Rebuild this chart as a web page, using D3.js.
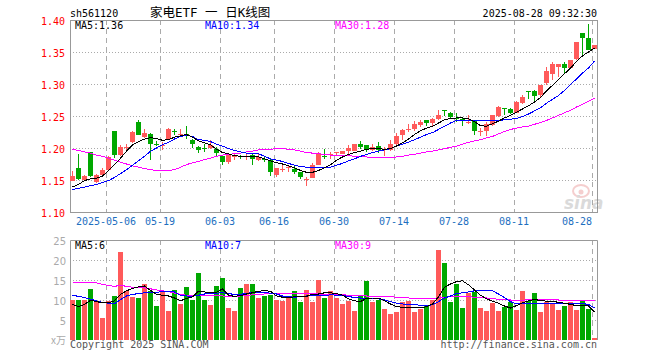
<!DOCTYPE html>
<html>
<head>
<meta charset="utf-8">
<script src="https://cdn.jsdelivr.net/npm/d3@7"></script>
<style>
  body { margin: 0; background: #fff; }
  text { font-family: "DejaVu Sans Mono", monospace; font-size: 10px; }
</style>
</head>
<body>
<div id="chart"></div>
<script>
// trading days on the chart (2025, mm-dd)
var dates = ["04-23","04-24","04-25","04-28","04-29","04-30",
  "05-06","05-07","05-08","05-09","05-12","05-13","05-14","05-15","05-16",
  "05-19","05-20","05-21","05-22","05-23","05-26","05-27","05-28","05-29","05-30",
  "06-03","06-04","06-05","06-06","06-09","06-10","06-11","06-12","06-13",
  "06-16","06-17","06-18","06-19","06-20","06-23","06-24","06-25","06-26","06-27","06-30",
  "07-01","07-02","07-03","07-04","07-07","07-08","07-09","07-10","07-11",
  "07-14","07-15","07-16","07-17","07-18","07-21","07-22","07-23","07-24","07-25",
  "07-28","07-29","07-30","07-31","08-01","08-04","08-05","08-06","08-07","08-08",
  "08-11","08-12","08-13","08-14","08-15","08-18","08-19","08-20","08-21","08-22",
  "08-25","08-26","08-27","08-28"];

var open = [1.149,1.168,1.151,1.193,1.147,1.158,1.166,1.227,1.189,1.200,
  1.210,1.241,1.216,1.222,1.207,1.203,1.215,1.227,1.221,1.222,
  1.213,1.202,1.200,1.200,1.199,1.187,1.178,1.186,1.188,1.187,
  1.189,1.182,1.183,1.181,1.157,1.166,1.169,1.167,1.162,1.151,
  1.154,1.174,1.188,1.189,1.192,1.191,1.195,1.196,1.207,1.204,
  1.196,1.203,1.197,1.197,1.207,1.220,1.228,1.229,1.236,1.244,
  1.239,1.246,1.259,1.255,1.247,1.246,1.240,1.243,1.226,1.227,
  1.235,1.250,1.263,1.261,1.255,1.270,1.289,1.289,1.282,1.303,
  1.316,1.328,1.332,1.326,1.338,1.379,1.372,1.355];
var high = [1.164,1.191,1.158,1.194,1.160,1.169,1.188,1.227,1.204,1.206,
  1.226,1.243,1.229,1.224,1.211,1.209,1.232,1.230,1.229,1.235,
  1.214,1.203,1.207,1.212,1.201,1.188,1.190,1.192,1.189,1.191,
  1.192,1.191,1.187,1.183,1.168,1.174,1.173,1.172,1.163,1.155,
  1.176,1.194,1.198,1.194,1.193,1.196,1.204,1.207,1.211,1.204,
  1.207,1.210,1.201,1.213,1.223,1.229,1.237,1.242,1.243,1.244,
  1.247,1.260,1.260,1.256,1.254,1.247,1.251,1.244,1.232,1.240,
  1.252,1.265,1.263,1.263,1.274,1.283,1.289,1.290,1.299,1.327,
  1.335,1.332,1.334,1.338,1.365,1.380,1.393,1.361];
var low = [1.148,1.150,1.148,1.155,1.146,1.158,1.165,1.184,1.187,1.194,
  1.208,1.220,1.215,1.182,1.203,1.197,1.213,1.221,1.217,1.214,
  1.200,1.192,1.193,1.199,1.187,1.174,1.175,1.182,1.183,1.181,
  1.173,1.180,1.178,1.157,1.155,1.162,1.162,1.159,1.151,1.140,
  1.153,1.173,1.183,1.183,1.187,1.190,1.190,1.196,1.199,1.194,
  1.195,1.192,1.188,1.195,1.205,1.213,1.225,1.227,1.233,1.234,
  1.233,1.244,1.250,1.245,1.241,1.234,1.238,1.220,1.219,1.219,
  1.234,1.248,1.252,1.253,1.254,1.269,1.277,1.274,1.278,1.298,
  1.307,1.311,1.317,1.325,1.337,1.342,1.354,1.355];
var close = [1.157,1.151,1.157,1.155,1.158,1.166,1.186,1.190,1.202,1.201,
  1.225,1.221,1.223,1.207,1.206,1.205,1.230,1.226,1.222,1.220,
  1.207,1.198,1.199,1.204,1.193,1.178,1.189,1.189,1.187,1.188,
  1.182,1.186,1.182,1.163,1.168,1.167,1.170,1.162,1.154,1.152,
  1.174,1.192,1.186,1.190,1.193,1.196,1.200,1.207,1.203,1.196,
  1.201,1.196,1.199,1.207,1.219,1.228,1.229,1.237,1.241,1.240,
  1.246,1.252,1.257,1.248,1.245,1.244,1.241,1.226,1.227,1.238,
  1.251,1.264,1.261,1.254,1.272,1.279,1.287,1.281,1.298,1.321,
  1.332,1.332,1.326,1.338,1.365,1.371,1.354,1.361];

// price moving averages
var ma5 = [1.139,1.143,1.149,1.152,1.153,1.156,1.165,1.174,1.184,1.195,
  1.205,1.210,1.214,1.216,1.215,1.212,1.213,1.217,1.219,1.221,
  1.217,1.211,1.208,1.205,1.198,1.193,1.191,1.188,1.187,1.187,
  1.187,1.186,1.183,1.180,1.177,1.175,1.172,1.169,1.165,1.162,
  1.162,1.165,1.169,1.174,1.181,1.186,1.190,1.193,1.195,1.198,
  1.199,1.199,1.198,1.199,1.203,1.208,1.214,1.221,1.227,1.231,
  1.234,1.239,1.244,1.246,1.247,1.247,1.246,1.241,1.235,1.234,
  1.238,1.242,1.247,1.251,1.256,1.261,1.266,1.272,1.279,1.289,
  1.298,1.307,1.316,1.325,1.335,1.344,1.350,1.356];
var ma10 = [1.135,1.137,1.139,1.141,1.143,1.146,1.149,1.154,1.160,1.166,
  1.173,1.180,1.187,1.195,1.200,1.205,1.209,1.214,1.218,1.220,
  1.218,1.213,1.212,1.210,1.206,1.203,1.199,1.196,1.194,1.192,
  1.192,1.191,1.187,1.183,1.181,1.179,1.176,1.173,1.171,1.170,
  1.169,1.169,1.169,1.170,1.173,1.176,1.180,1.183,1.187,1.190,
  1.193,1.195,1.197,1.199,1.203,1.206,1.209,1.213,1.217,1.221,
  1.224,1.229,1.234,1.239,1.243,1.243,1.243,1.243,1.243,1.243,
  1.243,1.243,1.244,1.245,1.246,1.249,1.253,1.258,1.263,1.270,
  1.276,1.282,1.290,1.299,1.308,1.317,1.325,1.336];
var ma30 = [1.198,1.196,1.194,1.192,1.189,1.187,1.184,1.181,1.178,1.175,
  1.172,1.170,1.168,1.166,1.165,1.165,1.165,1.166,1.170,1.174,
  1.177,1.179,1.182,1.184,1.187,1.189,1.190,1.191,1.192,1.194,
  1.195,1.197,1.198,1.198,1.199,1.199,1.198,1.197,1.195,1.193,
  1.192,1.191,1.190,1.189,1.189,1.188,1.188,1.187,1.186,1.186,
  1.185,1.185,1.185,1.185,1.186,1.187,1.189,1.190,1.192,1.194,
  1.195,1.197,1.199,1.201,1.203,1.206,1.209,1.211,1.213,1.216,
  1.218,1.222,1.226,1.229,1.231,1.233,1.234,1.237,1.240,1.243,
  1.247,1.251,1.255,1.259,1.264,1.268,1.273,1.278];

// volume (x10k) and its moving averages
var volume = [9.9,9.9,9.9,12.8,9.7,5.6,9.7,11.1,21.9,12.2,
  10.8,10.6,14.1,12.3,8.6,12.3,7.3,12.6,9.1,13.3,
  10.1,16.8,10.1,8.8,13.6,15.6,8.1,7.3,13.1,14.1,
  14.1,10.6,11.1,11.3,10.1,9.7,10.6,12.3,9.6,12.6,
  9.6,15.1,10.6,12.3,10.6,9.1,9.8,7.3,11.1,14.8,
  9.6,10.1,7.8,6.6,7.1,9.6,9.8,7.1,7.8,8.6,
  10.1,22.6,19.3,9.6,14.1,8.1,11.8,12.1,8.1,7.3,
  9.3,7.3,8.3,9.6,7.6,12.3,9.8,11.8,7.1,9.6,
  9.1,7.6,8.6,9.6,7.6,9.8,7.8,0.6];
var volMa5 = [8.9,8.4,8.9,9.9,9.6,9.3,9.3,9.8,11.4,12.3,
  12.9,13.3,13.5,12.4,11.4,11.2,11.0,10.5,9.8,10.4,
  10.8,12.2,12.0,11.9,11.9,12.8,11.2,10.9,11.1,11.5,
  11.8,12.2,12.3,12.2,11.0,10.7,10.6,10.8,10.9,10.9,
  11.5,11.5,11.8,11.8,11.6,11.2,10.3,9.8,9.6,10.4,
  10.5,10.5,9.8,9.0,8.3,8.2,8.2,8.1,8.0,8.3,
  9.0,10.8,13.2,14.0,14.6,14.8,13.8,12.5,11.2,10.3,
  9.7,9.2,8.5,8.0,8.6,9.3,9.8,10.1,9.9,9.7,
  9.7,9.4,9.2,8.9,8.6,8.6,8.5,7.0];
var volMa10 = [11.2,10.9,10.6,10.2,9.8,9.4,9.2,9.1,10.1,11.0,
  11.4,11.6,11.8,11.8,11.9,12.1,12.2,12.0,11.2,11.0,
  10.9,11.2,11.5,11.6,11.7,11.8,11.6,11.4,11.4,11.7,
  11.8,11.9,11.9,11.7,11.5,11.0,10.8,10.7,10.8,11.0,
  11.1,11.1,11.1,11.3,11.2,11.1,10.9,10.6,10.5,10.5,
  10.5,10.3,10.0,9.6,9.2,9.0,8.8,8.8,8.7,8.6,
  8.8,9.6,10.5,11.0,11.6,11.8,12.0,12.3,12.4,12.4,
  12.3,11.5,10.6,9.6,9.0,9.1,9.1,9.1,9.1,9.1,
  9.1,9.1,9.1,9.2,9.2,9.1,8.9,8.0];
var volMa30 = [14.5,14.5,14.5,14.4,14.3,13.9,13.6,13.4,13.7,13.4,
  13.2,13.1,13.0,12.8,12.5,12.3,12.1,11.7,11.4,11.2,
  11.2,11.1,11.1,11.1,11.1,11.0,10.9,10.8,11.0,11.1,
  11.3,11.4,11.5,11.6,11.6,11.6,11.7,11.7,11.7,11.6,
  11.6,11.5,11.5,11.5,11.4,11.3,11.2,11.1,11.1,11.0,
  11.0,10.9,10.9,10.8,10.7,10.6,10.5,10.4,10.3,10.3,
  10.3,10.5,10.7,10.8,10.8,10.8,10.8,10.7,10.6,10.5,
  10.3,10.2,10.1,10.0,10.0,9.9,10.1,10.2,10.2,10.1,
  10.1,10.0,10.0,9.9,9.9,9.9,9.8,9.8];

// ticks
var dateTicks = ["05-06","05-19","06-03","06-16","06-30","07-14","07-28","08-11","08-28"];
var priceTicks = [1.10,1.15,1.20,1.25,1.30,1.35,1.40];
var volTicks = [5,10,15,20,25];

var up = "#ff5a5a", down = "#00a800";
var left = 70, right = 598;

var svg = d3.select("#chart")
  .append("svg")
  .attr("width", 660)
  .attr("height", 360)
  .style("display", "block");

var x = d3.scaleBand().domain(dates).range([left, right]);
var bw = x.bandwidth() - 1;
var yPrice = d3.scaleLinear().domain([1.10, 1.40]).range([212, 20]);
var yVol = d3.scaleLinear().domain([0, 25]).range([340, 240]);

function cx(i) { return x(dates[i]) + bw / 2; }

// ----- header texts
svg.append("text").attr("x", 70).attr("y", 17).attr("fill", "#000").text("sh561120");
svg.append("text").attr("x", 150).attr("y", 17).attr("fill", "#000")
  .attr("xml:space", "preserve")
  .style("white-space", "pre")
  .style("font-family", "'DejaVu Sans Mono', 'Noto Sans CJK SC', monospace").style("font-size", "12.5px")
  .text("家电ETF 一 日K线图");
svg.append("text").attr("x", 597).attr("y", 17).attr("text-anchor", "end").attr("fill", "#000")
  .text("2025-08-28 09:32:30");

// ----- grids (dotted horizontal, dashed vertical)
svg.append("g").selectAll("line")
  .data(priceTicks.slice(1, -1))
  .enter().append("line")
  .attr("x1", left).attr("x2", right)
  .attr("y1", function(d) { return Math.round(yPrice(d)) + 0.5; })
  .attr("y2", function(d) { return Math.round(yPrice(d)) + 0.5; })
  .attr("stroke", "#aaa").attr("stroke-dasharray", "1,2");

svg.append("g").selectAll("line")
  .data(volTicks.slice(0, -1))
  .enter().append("line")
  .attr("x1", left).attr("x2", right)
  .attr("y1", function(d) { return Math.round(yVol(d)) + 0.5; })
  .attr("y2", function(d) { return Math.round(yVol(d)) + 0.5; })
  .attr("stroke", "#aaa").attr("stroke-dasharray", "1,2");

dateTicks.forEach(function(d) {
  var gx = x(d) + 0.5;
  svg.append("line").attr("x1", gx).attr("x2", gx).attr("y1", 20).attr("y2", 212)
    .attr("stroke", "#aaa").attr("stroke-dasharray", "5,4");
  svg.append("line").attr("x1", gx).attr("x2", gx).attr("y1", 240).attr("y2", 340)
    .attr("stroke", "#aaa").attr("stroke-dasharray", "5,4");
});

// panel frames
svg.append("rect").attr("x", left + 0.5).attr("y", 20.5)
  .attr("width", right - left - 1).attr("height", 192)
  .attr("fill", "none").attr("stroke", "#999");
svg.append("path")
  .attr("d", "M" + (left + 0.5) + ",340V240.5H" + (right - 0.5) + "V340")
  .attr("fill", "none").attr("stroke", "#999");

// sina watermark
var mark = svg.append("g").attr("opacity", 0.3);
mark.append("ellipse").attr("cx", 581).attr("cy", 191).attr("rx", 8).attr("ry", 6)
  .attr("fill", "none").attr("stroke", "#e06060").attr("stroke-width", 2);
mark.append("circle").attr("cx", 581).attr("cy", 192).attr("r", 2.5).attr("fill", "#e06060");
mark.append("text").attr("x", 564).attr("y", 209)
  .style("font-family", "'DejaVu Sans', sans-serif").style("font-size", "17px")
  .style("font-style", "italic").style("font-weight", "bold")
  .attr("fill", "#888").text("sina");

// ----- axes
var yAxis = d3.axisLeft(yPrice).tickValues(priceTicks)
  .tickFormat(d3.format(".2f")).tickSize(0).tickPadding(5);
var gy = svg.append("g").attr("transform", "translate(" + left + ",0)").call(yAxis);
gy.select(".domain").remove();
gy.selectAll("text").attr("fill", "#f00").attr("dy", "4.5")
  .style("font-family", "'DejaVu Sans Mono', monospace").style("font-size", "10px");

var vAxis = d3.axisLeft(yVol).tickValues(volTicks).tickSize(0).tickPadding(4);
var gv = svg.append("g").attr("transform", "translate(" + left + ",0)").call(vAxis);
gv.select(".domain").remove();
gv.selectAll("text").attr("fill", "#aaa").attr("dy", "4")
  .style("font-family", "'DejaVu Sans', sans-serif").style("font-size", "10px");
svg.append("text").attr("x", 66).attr("y", 344).attr("text-anchor", "end")
  .attr("fill", "#aaa").style("font-family", "'Noto Sans CJK SC', sans-serif")
  .style("font-size", "10px").text("x万");

var xAxis = d3.axisBottom(x).tickValues(dateTicks).tickSize(0).tickPadding(4)
  .tickFormat(function(d, i) { return i === 0 ? "2025-" + d : d; });
var gx = svg.append("g").attr("transform", "translate(0,212)").call(xAxis);
gx.select(".domain").remove();
gx.selectAll("text").attr("fill", "#1e6fc0").attr("x", -3).attr("dy", "0.9em")
  .style("font-family", "'DejaVu Sans Mono', monospace").style("font-size", "10px")
  .attr("text-anchor", function(d, i) { return i === dateTicks.length - 1 ? "end" : "middle"; });

// ----- candles
var idx = d3.range(dates.length);
function col(i) { return close[i] >= open[i] ? up : down; }

var candles = svg.append("g").attr("shape-rendering", "crispEdges");
candles.selectAll(".wick")
  .data(idx)
  .enter().append("line")
  .attr("class", "wick")
  .attr("x1", function(i) { return Math.floor(cx(i)) + 0.5; })
  .attr("x2", function(i) { return Math.floor(cx(i)) + 0.5; })
  .attr("y1", function(i) { return yPrice(high[i]); })
  .attr("y2", function(i) { return yPrice(low[i]); })
  .attr("stroke", col);
candles.selectAll(".body")
  .data(idx)
  .enter().append("rect")
  .attr("class", "body")
  .attr("x", function(i) { return x(dates[i]); })
  .attr("width", bw)
  .attr("y", function(i) { return Math.round(yPrice(Math.max(open[i], close[i]))); })
  .attr("height", function(i) {
    return Math.max(1, Math.round(Math.abs(yPrice(open[i]) - yPrice(close[i]))));
  })
  .attr("fill", col);

// ----- volume bars
svg.append("g").attr("shape-rendering", "crispEdges")
  .selectAll("rect")
  .data(idx)
  .enter().append("rect")
  .attr("x", function(i) { return x(dates[i]); })
  .attr("width", bw)
  .attr("y", function(i) { return Math.round(yVol(volume[i])); })
  .attr("height", function(i) { return 340 - Math.round(yVol(volume[i])); })
  .attr("fill", col);

// ----- moving average lines
function drawLine(values, yScale, color) {
  var line = d3.line()
    .x(function(d, i) { return cx(i); })
    .y(function(d) { return yScale(d); });
  svg.append("path")
    .datum(values)
    .attr("d", line)
    .attr("fill", "none")
    .attr("stroke", color)
    .attr("stroke-width", 1)
    .attr("shape-rendering", "crispEdges");
}
drawLine(ma30, yPrice, "#ff00ff");
drawLine(ma10, yPrice, "#0000ff");
drawLine(ma5, yPrice, "#000");
drawLine(volMa30, yVol, "#ff00ff");
drawLine(volMa10, yVol, "#0000ff");
drawLine(volMa5, yVol, "#000");

// ----- legends
svg.append("text").attr("x", 75).attr("y", 29).attr("fill", "#000").text("MA5:1.36");
svg.append("text").attr("x", 205).attr("y", 29).attr("fill", "#0000ff").text("MA10:1.34");
svg.append("text").attr("x", 335).attr("y", 29).attr("fill", "#ff00ff").text("MA30:1.28");
svg.append("text").attr("x", 75).attr("y", 249).attr("fill", "#000").text("MA5:6");
svg.append("text").attr("x", 205).attr("y", 249).attr("fill", "#0000ff").text("MA10:7");
svg.append("text").attr("x", 335).attr("y", 249).attr("fill", "#ff00ff").text("MA30:9");

// ----- footer
svg.append("text").attr("x", 70).attr("y", 348).attr("fill", "#555").text("Copyright 2025 SINA.COM");
svg.append("text").attr("x", 597).attr("y", 348).attr("text-anchor", "end").attr("fill", "#555")
  .text("http://finance.sina.com.cn");
</script>
</body>
</html>
